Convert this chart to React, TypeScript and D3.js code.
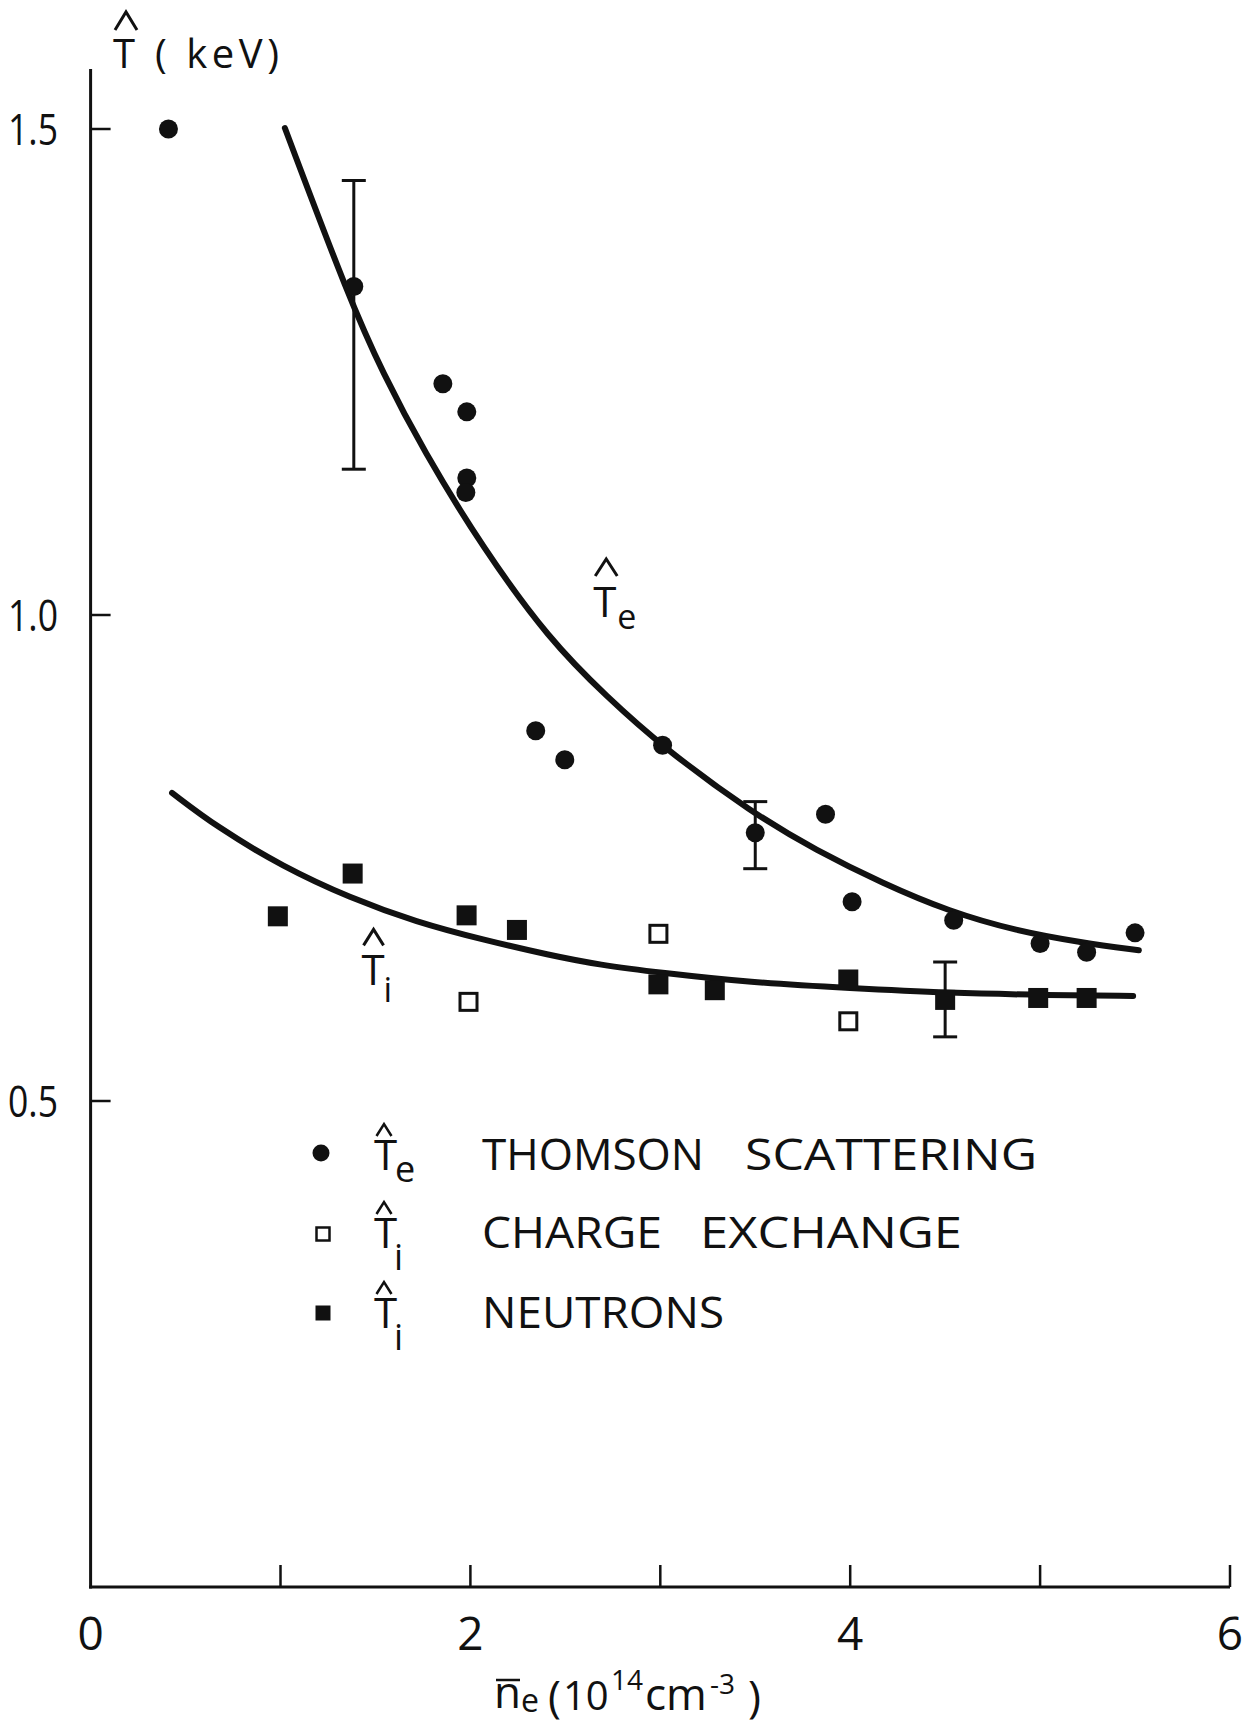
import React from 'react';
import * as d3 from 'd3';

// ---- data ----
const thomsonX = [0.41, 1.386, 1.855, 1.981, 1.981, 1.976, 2.344, 2.497, 3.012, 3.5, 3.87, 4.01, 4.545, 5.0, 5.245, 5.5];
const thomsonY = [1.5, 1.338, 1.238, 1.209, 1.141, 1.126, 0.881, 0.851, 0.866, 0.776, 0.795, 0.705, 0.686, 0.662, 0.653, 0.673];

const neutronX = [0.986, 1.38, 1.98, 2.245, 2.99, 3.287, 3.99, 4.5, 4.99, 5.245];
const neutronY = [0.69, 0.734, 0.691, 0.676, 0.62, 0.614, 0.625, 0.604, 0.606, 0.606];

const chargeX = [1.99, 2.99, 3.99];
const chargeY = [0.602, 0.672, 0.582];

const errX = [1.386, 3.5, 4.5];
const errLow = [1.15, 0.739, 0.566];
const errHigh = [1.447, 0.808, 0.643];

const teCurveX = [1.023, 1.365, 1.539, 1.75, 2.065, 2.418, 2.718, 3.013, 3.487, 3.82, 4.17, 4.52, 4.875, 5.22, 5.52];
const teCurveY = [1.501, 1.324, 1.249, 1.17, 1.069, 0.974, 0.916, 0.864, 0.796, 0.758, 0.724, 0.695, 0.675, 0.663, 0.655];

const tiCurveX = [0.429, 0.664, 1.013, 1.366, 1.717, 2.066, 2.418, 2.68, 3.0, 3.47, 4.0, 4.52, 5.05, 5.49];
const tiCurveY = [0.817, 0.782, 0.741, 0.709, 0.684, 0.666, 0.65, 0.64, 0.632, 0.622, 0.616, 0.611, 0.609, 0.608];

const xTicks = [1, 2, 3, 4, 5, 6];
const xTickLabels = [0, 2, 4, 6];
const yTicks = [0.5, 1.0, 1.5];
const yTickLabels = ['0.5', '1.0', '1.5'];

const legendLabels = [
  ['THOMSON', 'SCATTERING'],
  ['CHARGE', 'EXCHANGE'],
  ['NEUTRONS'],
];
const legendSubs = ['e', 'i', 'i'];

const W = 1259;
const H = 1733;
const FONT = "'Open Sans', 'DejaVu Sans', sans-serif";
const INK = '#111';

export default function App() {
  const x = d3.scaleLinear().domain([0, 6]).range([90.6, 1230]);
  const y = d3.scaleLinear().domain([0, 1.5]).range([1587, 129]);

  const line = d3
    .line<[number, number]>()
    .x((d) => x(d[0]))
    .y((d) => y(d[1]))
    .curve(d3.curveBasis);

  const teCurve = teCurveX.map((v, i) => [v, teCurveY[i]] as [number, number]);
  const tiCurve = tiCurveX.map((v, i) => [v, tiCurveY[i]] as [number, number]);

  const x0 = x(0);
  const y0 = y(0);
  const axisTop = 69;

  const hat = (cx: number, top: number, w: number, h: number) =>
    `M${cx - w / 2},${top + h} L${cx},${top} L${cx + w / 2},${top + h}`;

  // legend layout
  const legRowsY = [1170, 1248, 1328];
  const legMarkX = 323;
  const legTX = 374;
  const legWordWidths = [
    [222, 292],
    [180, 262],
    [242],
  ];
  const legWordX = [
    [482, 745],
    [482, 700],
    [482],
  ];

  return (
    <svg
      width={W}
      height={H}
      viewBox={`0 0 ${W} ${H}`}
      style={{ position: 'absolute', left: 0, top: 0, background: '#fff' }}
      fontFamily={FONT}
    >
      <rect x={0} y={0} width={W} height={H} fill="#fff" />

      {/* axes */}
      <line x1={x0} y1={axisTop} x2={x0} y2={y0 + 1.5} stroke={INK} strokeWidth={3} />
      <line x1={x0 - 1.5} y1={y0} x2={x(6)} y2={y0} stroke={INK} strokeWidth={3} />
      {xTicks.map((t) => (
        <line key={'xt' + t} x1={x(t)} x2={x(t)} y1={y0} y2={y0 - 22} stroke={INK} strokeWidth={2.5} />
      ))}
      {xTickLabels.map((t) => (
        <text key={'xl' + t} x={x(t)} y={1650} fontSize={46} textAnchor="middle" fill={INK}>
          {t}
        </text>
      ))}
      {yTicks.map((t) => (
        <line key={'yt' + t} x1={x0} x2={x0 + 20} y1={y(t)} y2={y(t)} stroke={INK} strokeWidth={2.5} />
      ))}
      {yTicks.map((t, i) => (
        <text
          key={'yl' + t}
          x={8}
          y={y(t) + 16}
          fontSize={44}
          fill={INK}
          textLength={50}
          lengthAdjust="spacingAndGlyphs"
        >
          {yTickLabels[i]}
        </text>
      ))}

      {/* y title */}
      <path d={hat(126, 12, 22, 18)} fill="none" stroke={INK} strokeWidth={3} />
      <text x={113} y={68} fontSize={40} fill={INK}>T</text>
      <text x={155} y={68} fontSize={40} fill={INK} textLength={124} lengthAdjust="spacing">( keV)</text>

      {/* x title */}
      <line x1={496} x2={520} y1={1680} y2={1680} stroke={INK} strokeWidth={2.5} />
      <text y={1710} fontSize={44} fill={INK}>
        <tspan x={494} y={1708}>n</tspan>
        <tspan x={521} y={1712} fontSize={32}>e</tspan>
        <tspan x={548} y={1712}>(</tspan>
        <tspan x={563} y={1710} fontSize={40}>10</tspan>
        <tspan x={611} y={1690} fontSize={28}>14</tspan>
        <tspan x={645} y={1710}>cm</tspan>
        <tspan x={710} y={1694} fontSize={28}>-3</tspan>
        <tspan x={748} y={1712}>)</tspan>
      </text>

      {/* fitted curves */}
      <path d={line(teCurve) || ''} fill="none" stroke={INK} strokeWidth={6} strokeLinecap="round" />
      <path d={line(tiCurve) || ''} fill="none" stroke={INK} strokeWidth={6} strokeLinecap="round" />

      {/* curve labels */}
      <path d={hat(x(2.71) + 1, y(0.998) - 58, 22, 17)} fill="none" stroke={INK} strokeWidth={3} />
      <text x={x(2.71) - 12} y={y(0.998)} fontSize={42} fill={INK}>T</text>
      <text x={x(2.71) + 12} y={y(0.998) + 12} fontSize={34} fill={INK}>e</text>

      <path d={hat(x(1.49), y(0.619) - 56, 20, 16)} fill="none" stroke={INK} strokeWidth={3} />
      <text x={x(1.49) - 12} y={y(0.619)} fontSize={42} fill={INK}>T</text>
      <text x={x(1.49) + 10} y={y(0.619) + 17} fontSize={34} fill={INK}>i</text>

      {/* error bars */}
      {errX.map((v, i) => (
        <g key={'eb' + i} stroke={INK} strokeWidth={3}>
          <line x1={x(v)} x2={x(v)} y1={y(errLow[i])} y2={y(errHigh[i])} />
          <line x1={x(v) - 12} x2={x(v) + 12} y1={y(errLow[i])} y2={y(errLow[i])} />
          <line x1={x(v) - 12} x2={x(v) + 12} y1={y(errHigh[i])} y2={y(errHigh[i])} />
        </g>
      ))}

      {/* markers */}
      {thomsonX.map((v, i) => (
        <circle key={'th' + i} cx={x(v)} cy={y(thomsonY[i])} r={9.5} fill={INK} />
      ))}
      {neutronX.map((v, i) => (
        <rect key={'ne' + i} x={x(v) - 10} y={y(neutronY[i]) - 10} width={20} height={20} fill={INK} />
      ))}
      {chargeX.map((v, i) => (
        <rect
          key={'ce' + i}
          x={x(v) - 8.5}
          y={y(chargeY[i]) - 8.5}
          width={17}
          height={17}
          fill="#fff"
          stroke={INK}
          strokeWidth={3}
        />
      ))}

      {/* legend */}
      <circle cx={legMarkX - 2} cy={1153} r={8.5} fill={INK} />
      <rect x={legMarkX - 6.5} y={1234 - 6.5} width={13} height={13} fill="#fff" stroke={INK} strokeWidth={2.5} />
      <rect x={legMarkX - 7.5} y={1313 - 7.5} width={15} height={15} fill={INK} />
      {legRowsY.map((by, r) => (
        <g key={'lg' + r}>
          <path d={hat(legTX + 10, by - 46, 15, 12)} fill="none" stroke={INK} strokeWidth={2.5} />
          <text x={legTX} y={by} fontSize={42} fill={INK}>T</text>
          {legendSubs[r] === 'e' ? (
            <text x={legTX + 21} y={by + 12} fontSize={36} fill={INK}>e</text>
          ) : (
            <text x={legTX + 20} y={by + 22} fontSize={36} fill={INK}>i</text>
          )}
          {legendLabels[r].map((w, k) => (
            <text
              key={w}
              x={legWordX[r][k]}
              y={by}
              fontSize={43}
              fill={INK}
              textLength={legWordWidths[r][k]}
              lengthAdjust="spacingAndGlyphs"
            >
              {w}
            </text>
          ))}
        </g>
      ))}
    </svg>
  );
}
